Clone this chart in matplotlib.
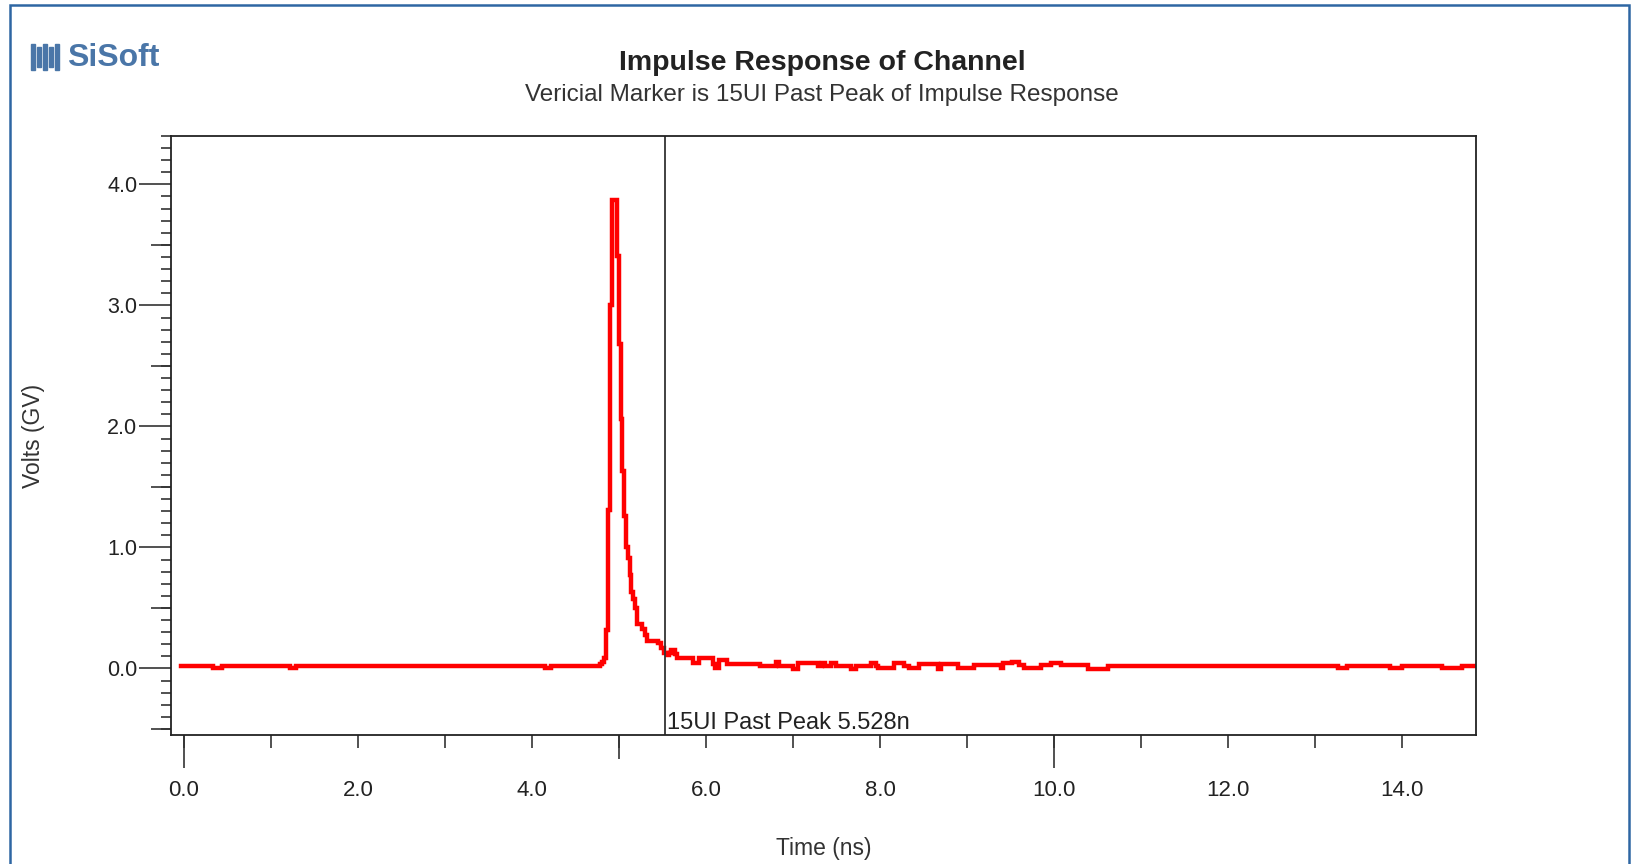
import matplotlib

matplotlib.use("Agg")
import matplotlib.pyplot as plt
from matplotlib import font_manager
from matplotlib.patches import Rectangle

# breakpoints of the stepped impulse response (ns, V)
time_ns = [-0.035, 0.333, 0.437, 1.218, 1.287, 4.149, 4.218, 4.782, 4.805, 4.828,
           4.851, 4.868, 4.891, 4.914, 4.971, 4.994, 5.019, 5.034, 5.057, 5.080,
           5.103, 5.121, 5.138, 5.161, 5.184, 5.207, 5.264, 5.293, 5.322, 5.448,
           5.483, 5.517, 5.552, 5.575, 5.598, 5.644, 5.667, 5.851, 5.920, 6.080,
           6.103, 6.149, 6.241, 6.621, 6.805, 6.839, 7.000, 7.057, 7.287, 7.333,
           7.368, 7.437, 7.494, 7.667, 7.724, 7.897, 7.954, 7.977, 8.161, 8.276,
           8.333, 8.448, 8.667, 8.701, 8.897, 9.080, 9.391, 9.414, 9.517, 9.598,
           9.655, 9.851, 9.966, 10.080, 10.391, 10.621, 13.264, 13.368, 13.862, 14.000,
           14.460, 14.690, 14.850]
volts = [0.020, 0.000, 0.020, 0.005, 0.020, 0.005, 0.020, 0.035, 0.050, 0.084,
         0.320, 1.310, 3.000, 3.875, 3.410, 2.680, 2.060, 1.630, 1.260, 1.000,
         0.910, 0.770, 0.635, 0.570, 0.500, 0.370, 0.330, 0.280, 0.230, 0.210,
         0.170, 0.130, 0.110, 0.130, 0.150, 0.120, 0.085, 0.045, 0.085, 0.040,
         0.000, 0.070, 0.035, 0.020, 0.057, 0.020, -0.005, 0.045, 0.020, 0.045,
         0.020, 0.045, 0.020, -0.005, 0.020, 0.045, 0.020, 0.000, 0.045, 0.020,
         0.000, 0.035, -0.005, 0.035, 0.000, 0.030, 0.000, 0.045, 0.057, 0.030,
         0.000, 0.030, 0.045, 0.030, -0.005, 0.020, 0.000, 0.020, 0.000, 0.020,
         0.000, 0.020, 0.020]

marker_ns = 5.528
marker_label = "15UI Past Peak 5.528n"
x_labels = [0, 2, 4, 6, 8, 10, 12, 14]
y_labels = [0, 1, 2, 3, 4]

available = {f.name for f in font_manager.fontManager.ttflist}
narrow = "Liberation Sans Narrow" if "Liberation Sans Narrow" in available else "Liberation Sans"
plt.rcParams["font.family"] = ["Liberation Sans", "DejaVu Sans"]

fig = plt.figure(figsize=(16.4, 8.64), dpi=100)
ax = fig.add_axes([0.104, 0.1493, 0.796, 0.6933])

ax.plot(time_ns, volts, drawstyle="steps-post", color="#ff0000", lw=3.2,
        solid_joinstyle="miter")
ax.axvline(marker_ns, color="#333333", lw=1.3)
ax.text(marker_ns + 0.02, -0.545, marker_label, fontsize=17, family=narrow,
        color="#222222", ha="left", va="bottom")

ax.set_xlim(-0.155, 14.85)
ax.set_ylim(-0.55, 4.4)

# x ticks
ax.set_xticks(x_labels)
ax.set_xticklabels([f"{v:.1f}" for v in x_labels], fontsize=16, family=narrow)
ax.set_xticks(range(1, 15, 2), minor=True)
ax.tick_params(axis="x", which="both", direction="out", length=9.5, width=1.2,
               color="#333333", labelcolor="#222222", pad=23)
sec_x = ax.secondary_xaxis("bottom")
sec_x.set_xticks([0, 10])
sec_x.set_xticks([5], minor=True)
sec_x.set_xticklabels([])
sec_x.tick_params(axis="x", which="major", length=24, width=1.2, color="#333333")
sec_x.tick_params(axis="x", which="minor", length=17, width=1.2, color="#333333")
sec_x.spines["bottom"].set_visible(False)

# y ticks
ax.set_yticks(y_labels)
ax.set_yticklabels([f"{v:.1f}" for v in y_labels], fontsize=15.5)
ax.set_yticks([i / 10 for i in range(-5, 45)], minor=True)
ax.tick_params(axis="y", which="major", direction="out", length=23, width=1.2,
               color="#333333", labelcolor="#222222", pad=1)
ax.tick_params(axis="y", which="minor", direction="out", length=7, width=1.2,
               color="#333333")
sec_y = ax.secondary_yaxis("left")
sec_y.set_yticks([-0.5, 0.5, 1.5, 2.5, 3.5])
sec_y.set_yticklabels([])
sec_y.tick_params(axis="y", which="major", length=14.5, width=1.2, color="#333333")
sec_y.tick_params(axis="y", which="minor", length=0)
sec_y.spines["left"].set_visible(False)

for s in ax.spines.values():
    s.set_linewidth(1.3)
    s.set_color("#222222")

ax.set_xlabel("Time (ns)", fontsize=16.5, color="#333333", labelpad=0)
ax.xaxis.set_label_coords(0.5, -0.171)
ax.set_ylabel("Volts (GV)", fontsize=16.5, color="#333333")
ax.yaxis.set_label_coords(-0.096, 0.5)

fig.text(0.5013, 0.9275, "Impulse Response of Channel", fontsize=20.5,
         fontweight="bold", color="#222222", ha="center", va="center")
fig.text(0.5013, 0.8895, "Vericial Marker is 15UI Past Peak of Impulse Response",
         fontsize=17.5, color="#333333", ha="center", va="center")

# logo
blue = "#4a76a8"
for i, x0 in enumerate([31, 37, 43, 49, 55]):
    h = 26 if i % 2 == 0 else 20
    y0 = 864 - 70 + (26 - h) / 2
    fig.add_artist(Rectangle((x0 / 1640, y0 / 864), 4 / 1640, h / 864,
                             transform=fig.transFigure, color=blue))
fig.text(67 / 1640, 1 - 58 / 864, "SiSoft", fontsize=23, fontweight="bold",
         color=blue, ha="left", va="center")

# outer frame
fig.add_artist(Rectangle((10 / 1640, -0.05), 1619 / 1640, 1.05 - 5 / 864,
                         transform=fig.transFigure, fill=False,
                         edgecolor="#2e66a3", lw=1.8))

plt.savefig("out.png", dpi=100)
plt.close()
